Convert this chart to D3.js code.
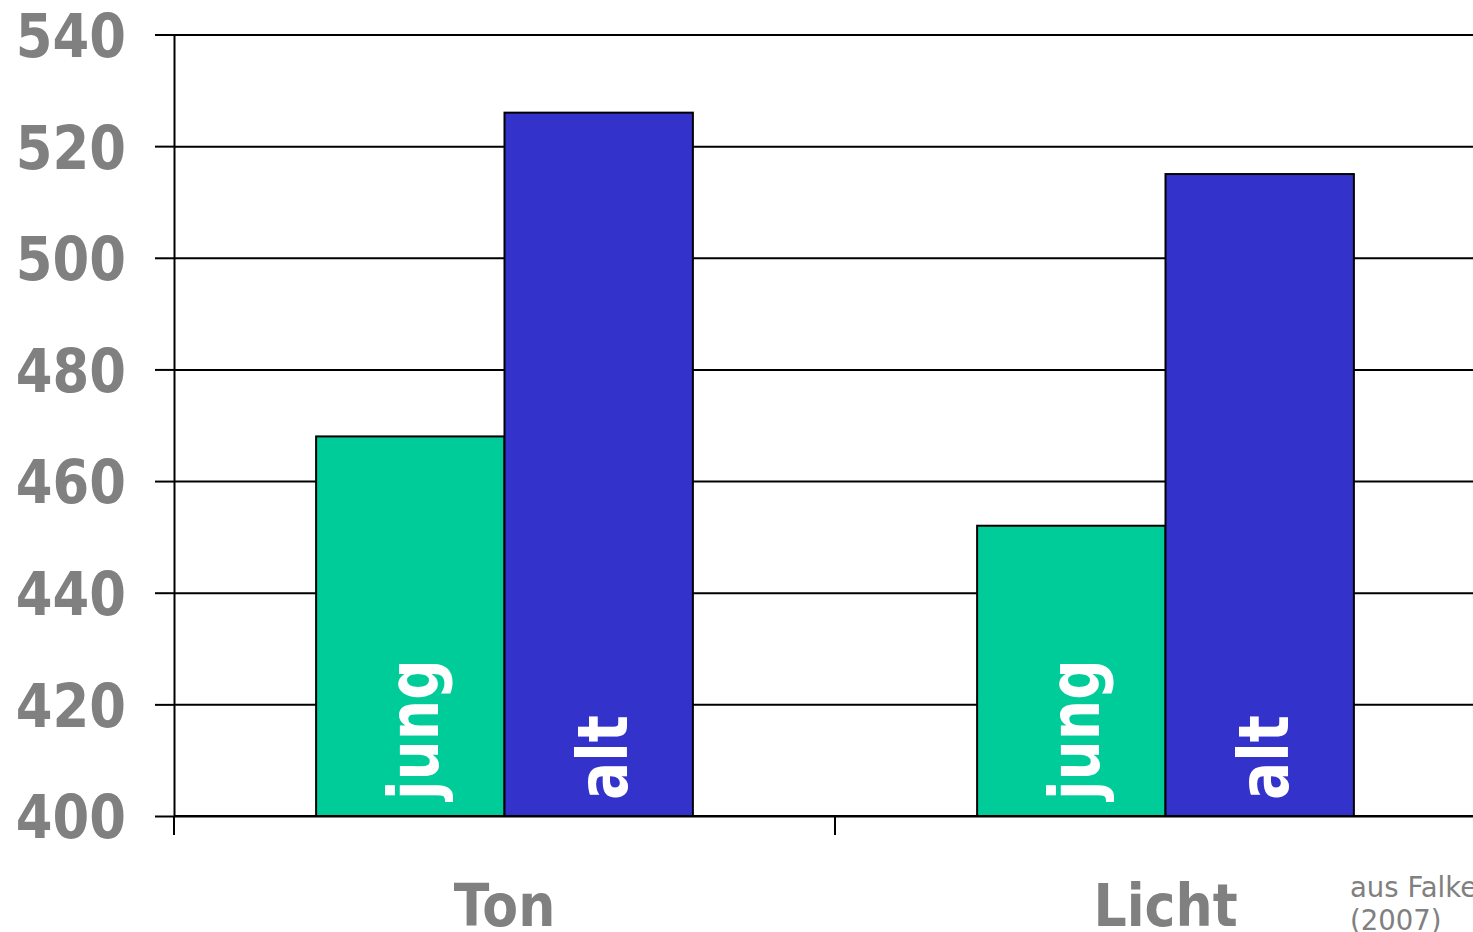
<!DOCTYPE html>
<html>
<head>
<meta charset="utf-8">
<script src="https://cdn.jsdelivr.net/npm/d3@7"></script>
<style>
  html, body { margin: 0; padding: 0; background: #fff; overflow: hidden; }
  svg { display: block; }
</style>
</head>
<body>
<svg id="chart" width="1473" height="932"></svg>
<script>
// ---- data ----
const categories = ["Ton", "Licht"];
const seriesNames = ["jung", "alt"];
const jungValues = [468, 452];
const altValues = [526, 515];
const yTicks = [400, 420, 440, 460, 480, 500, 520, 540];
const seriesColors = ["#00CC99", "#3333CC"];
const sourceLines = ["aus Falkenstein", "(2007)"];

// ---- layout ----
const W = 1473, H = 932;
const plotLeft = 174, plotRight = 1496, plotTop = 34.5, plotBottom = 816;
const svg = d3.select("#chart");

const x = d3.scaleBand().domain(categories).range([plotLeft, plotRight]).padding(0);
const bw = x.bandwidth();
const x1 = d3.scaleBand().domain(seriesNames).range([bw * 0.215, bw * 0.785]).padding(0);
const y = d3.scaleLinear().domain([400, 540]).range([plotBottom, plotTop]);

const rows = categories.map((c, i) => ({ cat: c, vals: [jungValues[i], altValues[i]] }));

// gridlines
const grid = svg.append("g").attr("transform", `translate(${plotLeft},0)`)
  .call(d3.axisLeft(y).tickValues(yTicks).tickSize(-(plotRight - plotLeft)).tickFormat(""));
grid.select(".domain").remove();
grid.selectAll(".tick line").attr("stroke", "#000").attr("stroke-width", 2);

// bars
const groups = svg.append("g").selectAll("g").data(rows).join("g")
  .attr("transform", d => `translate(${x(d.cat)},0)`);
groups.selectAll("rect").data(d => d.vals.map((v, i) => ({ s: seriesNames[i], v, i })))
  .join("rect")
  .attr("x", d => x1(d.s))
  .attr("y", d => y(d.v))
  .attr("width", x1.bandwidth())
  .attr("height", d => y(400) - y(d.v))
  .attr("fill", d => seriesColors[d.i])
  .attr("stroke", "#000")
  .attr("stroke-width", 2);

// rotated bar labels
groups.selectAll("text.bl").data(d => d.vals.map((v, i) => ({ s: seriesNames[i], v, i })))
  .join("text").attr("class", "bl")
  .attr("transform", d => `translate(${x1(d.s) + x1.bandwidth() / 2 + 28},${y(400) - 16}) rotate(-90) scale(0.81,1)`)
  .attr("text-anchor", "start")
  .attr("font-family", "DejaVu Sans")
  .attr("font-weight", "bold")
  .attr("font-size", 70)
  .attr("fill", "#fff")
  .text(d => d.s);

// y axis with labels and outward ticks
const yAxis = svg.append("g").attr("transform", `translate(${plotLeft},0)`)
  .call(d3.axisLeft(y).tickValues(yTicks).tickSizeInner(19).tickSizeOuter(0).tickPadding(29));
yAxis.select(".domain").attr("stroke", "#000").attr("stroke-width", 2);
yAxis.selectAll(".tick line").attr("stroke", "#000").attr("stroke-width", 2);
yAxis.selectAll(".tick text")
  .attr("x", null)
  .attr("dy", "0.365em")
  .attr("transform", "translate(-48,0) scale(0.88,1)")
  .attr("font-family", "DejaVu Sans")
  .attr("font-weight", "bold")
  .attr("font-size", 60)
  .attr("fill", "#808080");

// x axis baseline + boundary ticks
const bounds = categories.map(c => x(c)).concat([x(categories[categories.length - 1]) + bw]);
svg.append("line").attr("x1", plotLeft).attr("x2", plotRight)
  .attr("y1", y(400)).attr("y2", y(400)).attr("stroke", "#000").attr("stroke-width", 2);
svg.append("g").selectAll("line").data(bounds).join("line")
  .attr("x1", d => d).attr("x2", d => d)
  .attr("y1", y(400)).attr("y2", y(400) + 19)
  .attr("stroke", "#000").attr("stroke-width", 2);

// category labels
svg.append("g").selectAll("text").data(categories).join("text")
  .attr("transform", d => `translate(${x(d) + bw / 2},926) scale(0.9,1)`)
  .attr("text-anchor", "middle")
  .attr("font-family", "DejaVu Sans")
  .attr("font-weight", "bold")
  .attr("font-size", 58)
  .attr("fill", "#808080")
  .text(d => d);

// source note
svg.append("g").selectAll("text").data(sourceLines).join("text")
  .attr("transform", (d, i) => `translate(1350,${897 + i * 33}) scale(0.95,1)`)
  .attr("font-family", "DejaVu Sans")
  .attr("font-size", 29)
  .attr("fill", "#808080")
  .text(d => d);
</script>
</body>
</html>
